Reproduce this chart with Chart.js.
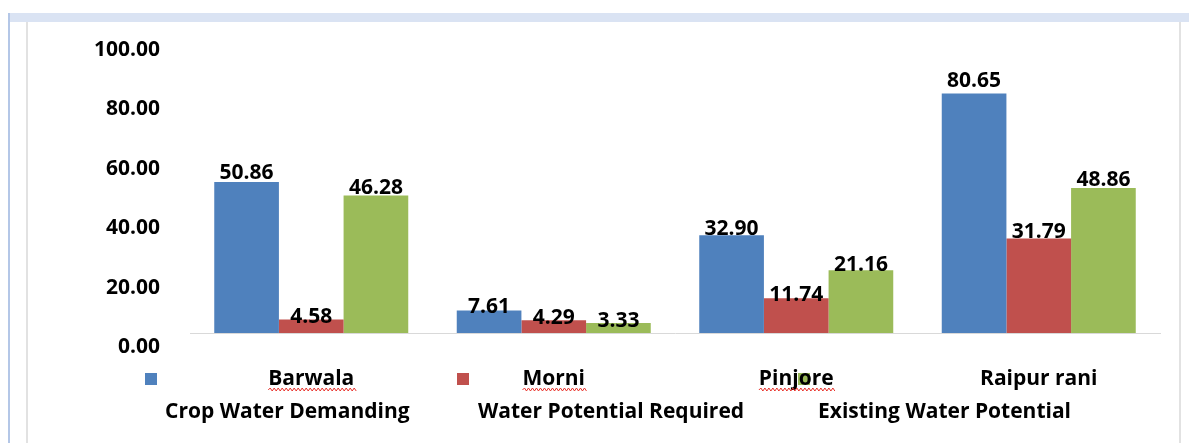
<!DOCTYPE html>
<html><head><meta charset="utf-8">
<script src="https://cdn.jsdelivr.net/npm/chart.js@4/dist/chart.umd.min.js"></script>
<style>
html,body{margin:0;padding:0;background:#fff;}
#wrap{position:relative;width:1189px;height:443px;overflow:hidden;background:#fff;}
.f{position:absolute;}
canvas{position:absolute;left:0;top:0;}
</style></head><body>
<div id="wrap">
<div class="f" style="left:8px;top:13px;width:1181px;height:9px;background:#DAE3F3"></div>
<div class="f" style="left:8px;top:13px;width:2px;height:430px;background:#B4C7E7"></div>
<div class="f" style="left:26px;top:22px;width:2px;height:421px;background:#E2E2E2"></div>
<div class="f" style="left:1179px;top:22px;width:2px;height:421px;background:#E2E2E2"></div>
<canvas id="c" width="1189" height="443"></canvas>
</div>
<script>
const categories = ['Barwala', 'Morni', 'Pinjore', 'Raipur rani'];
const seriesNames = ['Crop Water Demanding', 'Water Potential Required', 'Existing Water Potential'];
const cropWaterDemanding = [50.86, 7.61, 32.90, 80.65];
const waterPotentialRequired = [4.58, 4.29, 11.74, 31.79];
const existingWaterPotential = [46.28, 3.33, 21.16, 48.86];
const yTickValues = [0, 20, 40, 60, 80, 100];
const spellMarked = ['Barwala', 'Morni', 'Pinjore'];

const colors = ['#4F81BD', '#C0504D', '#9BBB59'];
const FAMILY = '"Open Sans", "Noto Sans", sans-serif';
const FSIZE = 21;
const FONT = 'bold ' + FSIZE + 'px ' + FAMILY;

const valueLabels = {
  id: 'valueLabels',
  afterDatasetsDraw(chart) {
    const ctx = chart.ctx;
    ctx.save();
    ctx.font = FONT;
    ctx.fillStyle = '#000';
    ctx.textAlign = 'center';
    ctx.textBaseline = 'alphabetic';
    chart.data.datasets.forEach((ds, i) => {
      chart.getDatasetMeta(i).data.forEach((el, j) => {
        const h = el.base - el.y;
        ctx.fillText(ds.data[j].toFixed(2), el.x, el.base + 4 - h * 1.044);
      });
    });
    ctx.restore();
  }
};

const markerX = [145, 457, 798];
const textX = [165, 478, 818];
const splitLegend = {
  id: 'splitLegend',
  beforeDraw(chart) {
    const ctx = chart.ctx;
    ctx.save();
    chart.data.datasets.forEach((ds, i) => {
      ctx.fillStyle = ds.backgroundColor;
      ctx.fillRect(markerX[i], 373, 12, 12);
    });
    ctx.restore();
  },
  afterDraw(chart) {
    const ctx = chart.ctx;
    ctx.save();
    ctx.font = FONT;
    ctx.fillStyle = '#000';
    ctx.textAlign = 'left';
    ctx.textBaseline = 'alphabetic';
    chart.data.datasets.forEach((ds, i) => {
      ctx.fillText(ds.label, textX[i], 418);
    });
    const xs = chart.scales.x;
    ctx.strokeStyle = '#E8322B';
    ctx.lineWidth = 1;
    categories.forEach((c, idx) => {
      if (!spellMarked.includes(c)) return;
      const w = ctx.measureText(c).width;
      const cx = xs.getPixelForValue(idx);
      let x = cx - w / 2;
      ctx.beginPath();
      ctx.moveTo(x, 390);
      let up = true;
      while (x < cx + w / 2) {
        x += 2;
        ctx.lineTo(x, up ? 388 : 391);
        up = !up;
      }
      ctx.stroke();
    });
    ctx.restore();
  }
};

const tickFont = { family: FAMILY, size: FSIZE, weight: 'bold' };

new Chart(document.getElementById('c'), {
  type: 'bar',
  data: {
    labels: categories,
    datasets: [
      { label: seriesNames[0], data: cropWaterDemanding, backgroundColor: colors[0] },
      { label: seriesNames[1], data: waterPotentialRequired, backgroundColor: colors[1] },
      { label: seriesNames[2], data: existingWaterPotential, backgroundColor: colors[2] }
    ]
  },
  options: {
    responsive: false,
    devicePixelRatio: 1,
    animation: false,
    layout: { padding: { left: 0, top: 36, right: 29, bottom: 0 } },
    datasets: { bar: { categoryPercentage: 0.8, barPercentage: 1.0 } },
    plugins: { legend: { display: false }, tooltip: { enabled: false } },
    scales: {
      x: {
        grid: { display: false, drawTicks: false },
        border: { display: true, color: '#D9D9D9', width: 1 },
        ticks: { color: '#000', font: tickFont, padding: 33, maxRotation: 0, autoSkip: false },
        afterFit(s) { s.height = 110; s.paddingLeft = 0; s.paddingRight = 0; }
      },
      y: {
        min: 0, max: 100,
        grid: { display: false, drawTicks: false },
        border: { display: false },
        afterBuildTicks(s) { s.ticks = yTickValues.map(v => ({ value: v })); },
        ticks: {
          color: '#000', font: tickFont, padding: 30, labelOffset: 14,
          callback: v => Number(v).toFixed(2)
        },
        afterFit(s) { s.width = 190; s.paddingTop = 0; s.paddingBottom = 0; }
      }
    }
  },
  plugins: [valueLabels, splitLegend]
});
</script>
</body></html>
